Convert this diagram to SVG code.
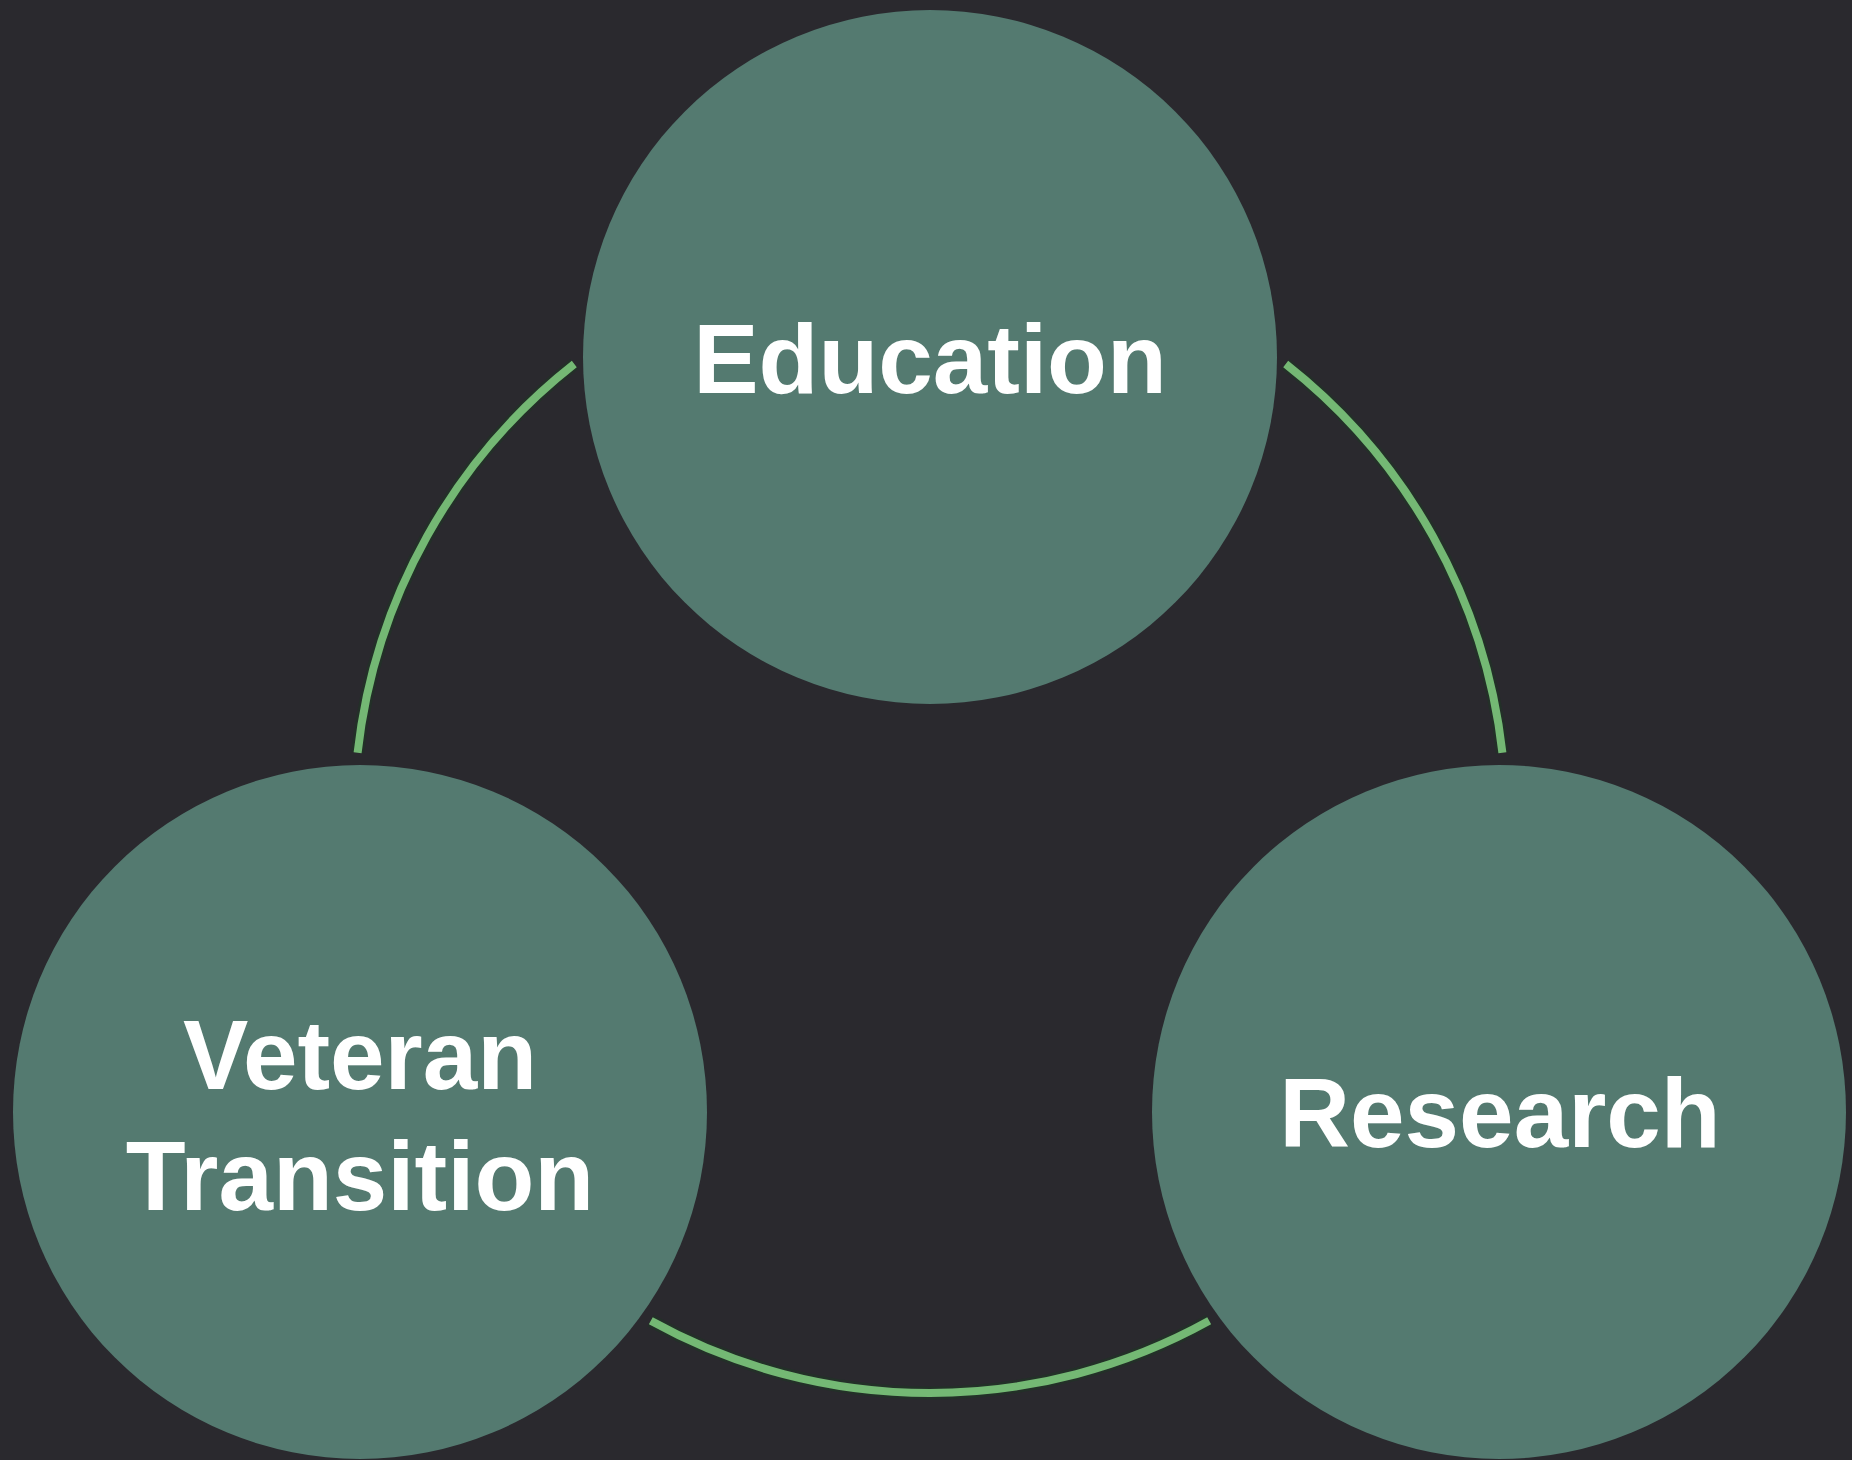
<svg xmlns="http://www.w3.org/2000/svg" width="1852" height="1460" viewBox="0 0 1852 1460">
  <style>
    .node { fill: #547a70; }
    .label { fill: #ffffff; font-family: "Liberation Sans", Arial, sans-serif; font-weight: bold; font-size: 98px; text-anchor: middle; }
    .arc-shadow { fill: none; stroke: #213327; stroke-width: 13; stroke-opacity: 0.7; }
    .arc { fill: none; stroke: #74b874; stroke-width: 8; stroke-linecap: butt; }
  </style>
  <rect x="0" y="0" width="1852" height="1460" fill="#2a292e"/>
  <g id="connectors">
    <path class="arc-shadow" d="M 357.6 752.8 A 576 576 0 0 1 574.3 364.0"/>
    <path class="arc-shadow" d="M 1285.7 364.0 A 576 576 0 0 1 1502.4 752.8"/>
    <path class="arc-shadow" d="M 1209.2 1320.8 A 576 576 0 0 1 650.8 1320.8"/>
    <path class="arc" d="M 357.6 752.8 A 576 576 0 0 1 574.3 364.0"/>
    <path class="arc" d="M 1285.7 364.0 A 576 576 0 0 1 1502.4 752.8"/>
    <path class="arc" d="M 1209.2 1320.8 A 576 576 0 0 1 650.8 1320.8"/>
  </g>
  <g id="education">
    <circle class="node" cx="930" cy="357" r="347"/>
    <text class="label" x="930" y="393">Education</text>
  </g>
  <g id="veteran-transition">
    <circle class="node" cx="360" cy="1112" r="347"/>
    <text class="label" x="360" y="1089">Veteran</text>
    <text class="label" x="360" y="1210">Transition</text>
  </g>
  <g id="research">
    <circle class="node" cx="1499" cy="1112" r="347"/>
    <text class="label" x="1500" y="1147">Research</text>
  </g>
</svg>
